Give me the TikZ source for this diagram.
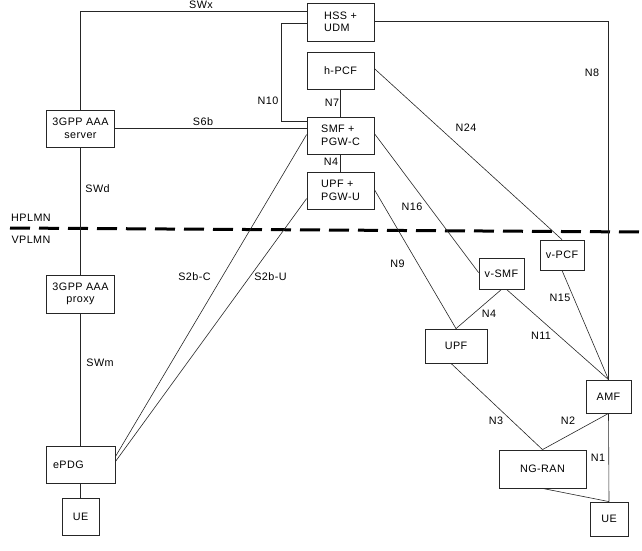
\documentclass[tikz,border=0pt]{standalone}
\usepackage{fontspec}
\setmainfont{Liberation Sans}[LetterSpace=4]
\begin{document}
\begin{tikzpicture}[x=1pt,y=-1pt,font=\fontsize{10.8}{12.5}\selectfont,
  box/.style={draw=black!85,line width=0.8pt,inner sep=0pt,align=center},
  lbox/.style={box,align=left},
  conn/.style={draw=black!85,line width=0.6pt},
  lbl/.style={inner sep=0pt},
  border/.style={line width=3pt,dash pattern=on 20pt off 9pt}]
\useasboundingbox (0,0) rectangle (642,550);
% nodes
\node[lbox,minimum width=67,minimum height=38] (hss) at (340.5,22) {HSS +\\UDM};
\node[box,minimum width=67,minimum height=37] (hpcf) at (340.5,70.5) {h-PCF};
\node[lbox,minimum width=67,minimum height=37] (smf) at (340.5,135.5) {SMF +\\PGW-C};
\node[lbox,minimum width=67,minimum height=37] (upfh) at (340.5,190.5) {UPF +\\PGW-U};
\node[box,minimum width=68,minimum height=37] (aaas) at (80.5,128.5) {3GPP AAA\\server};
\node[box,minimum width=68,minimum height=38] (aaap) at (80.5,294) {3GPP AAA\\proxy};
\node[box,text width=55pt,inner xsep=7pt,align=left,minimum height=37] (epdg) at (80.5,464.5) {ePDG};
\node[box,minimum width=37,minimum height=37] (uel) at (80.5,517) {UE};
\node[box,minimum width=45,minimum height=31] (vsmf) at (501.5,273.5) {v-SMF};
\node[box,minimum width=44,minimum height=30] (vpcf) at (562,255) {v-PCF};
\node[box,minimum width=62,minimum height=34] (upfv) at (456,346) {UPF};
\node[box,minimum width=45,minimum height=33] (amf) at (608.5,396.5) {AMF};
\node[box,minimum width=87,minimum height=38] (ngran) at (542.5,469) {NG-RAN};
\node[box,minimum width=38,minimum height=34] (uer) at (609,519) {UE};
% PLMN border
\draw[border] (10,228) -- (642,232);
\node[lbl] (hplmn) at (31,218) {HPLMN};
\node[lbl] (vplmn) at (31,240) {VPLMN};
% connectors
\draw[conn] (aaas.north) |- ([yshift=-9pt]hss.north west);
\draw[conn] ([yshift=-21pt]hss.north west) -- ++(-25,0) |- ([yshift=-5pt]smf.north west);
\draw[conn] (aaas.east) -- (smf.west |- aaas.east);
\draw[conn] (hpcf.south) -- (smf.north);
\draw[conn] (smf.south) -- (upfh.north);
\draw[conn] (aaas.south) -- (aaap.north);
\draw[conn] (aaap.south) -- (epdg.north);
\draw[conn] (epdg.south) -- (uel.north);
\draw[conn] ([yshift=-11pt]epdg.north east) -- ([yshift=-18pt]smf.north west);
\draw[conn] ([yshift=-16pt]epdg.north east) -- ([yshift=-27pt]upfh.north west);
\draw[conn] ([yshift=-17pt]hpcf.north east) -- (vpcf.north);
\draw[conn] ([yshift=-17pt]smf.north east) -- ([yshift=-15pt]vsmf.north west);
\draw[conn] ([yshift=-18pt]upfh.north east) -- (upfv.north);
\draw[conn] ([yshift=-19pt]hss.north east) -| (amf.north);
\draw[conn] (vsmf.south) -- (upfv.north);
\draw[conn] ([xshift=5pt]vsmf.south) -- (amf.north);
\draw[conn] (vpcf.south) -- (amf.north);
\draw[conn] ([xshift=-5pt]upfv.south) -- (ngran.north);
\draw[conn] (amf.south) -- (ngran.north);
\draw[conn] (amf.south) -- (uer.north);
\draw[conn] (ngran.south) -- (uer.north);
% labels
\node[lbl] (lswx) at (201,4.5) {SWx};
\node[lbl] (ln10) at (268,101) {N10};
\node[lbl] (ls6b) at (203,122) {S6b};
\node[lbl] (ln7) at (332,103) {N7};
\node[lbl] (ln4a) at (331,162) {N4};
\node[lbl] (lswd) at (97.5,189) {SWd};
\node[lbl] (lswm) at (100,363) {SWm};
\node[lbl] (ls2bc) at (194.5,277) {S2b-C};
\node[lbl] (ls2bu) at (270.5,277) {S2b-U};
\node[lbl] (ln24) at (466,128) {N24};
\node[lbl] (ln16) at (412,207) {N16};
\node[lbl] (ln9) at (397.5,264) {N9};
\node[lbl] (ln8) at (592,73) {N8};
\node[lbl] (ln4b) at (489,314) {N4};
\node[lbl] (ln11) at (541,336) {N11};
\node[lbl] (ln15) at (560,298) {N15};
\node[lbl] (ln3) at (496,421) {N3};
\node[lbl] (ln2) at (568,421) {N2};
\node[lbl] (ln1) at (598,458) {N1};
\end{tikzpicture}
\end{document}
